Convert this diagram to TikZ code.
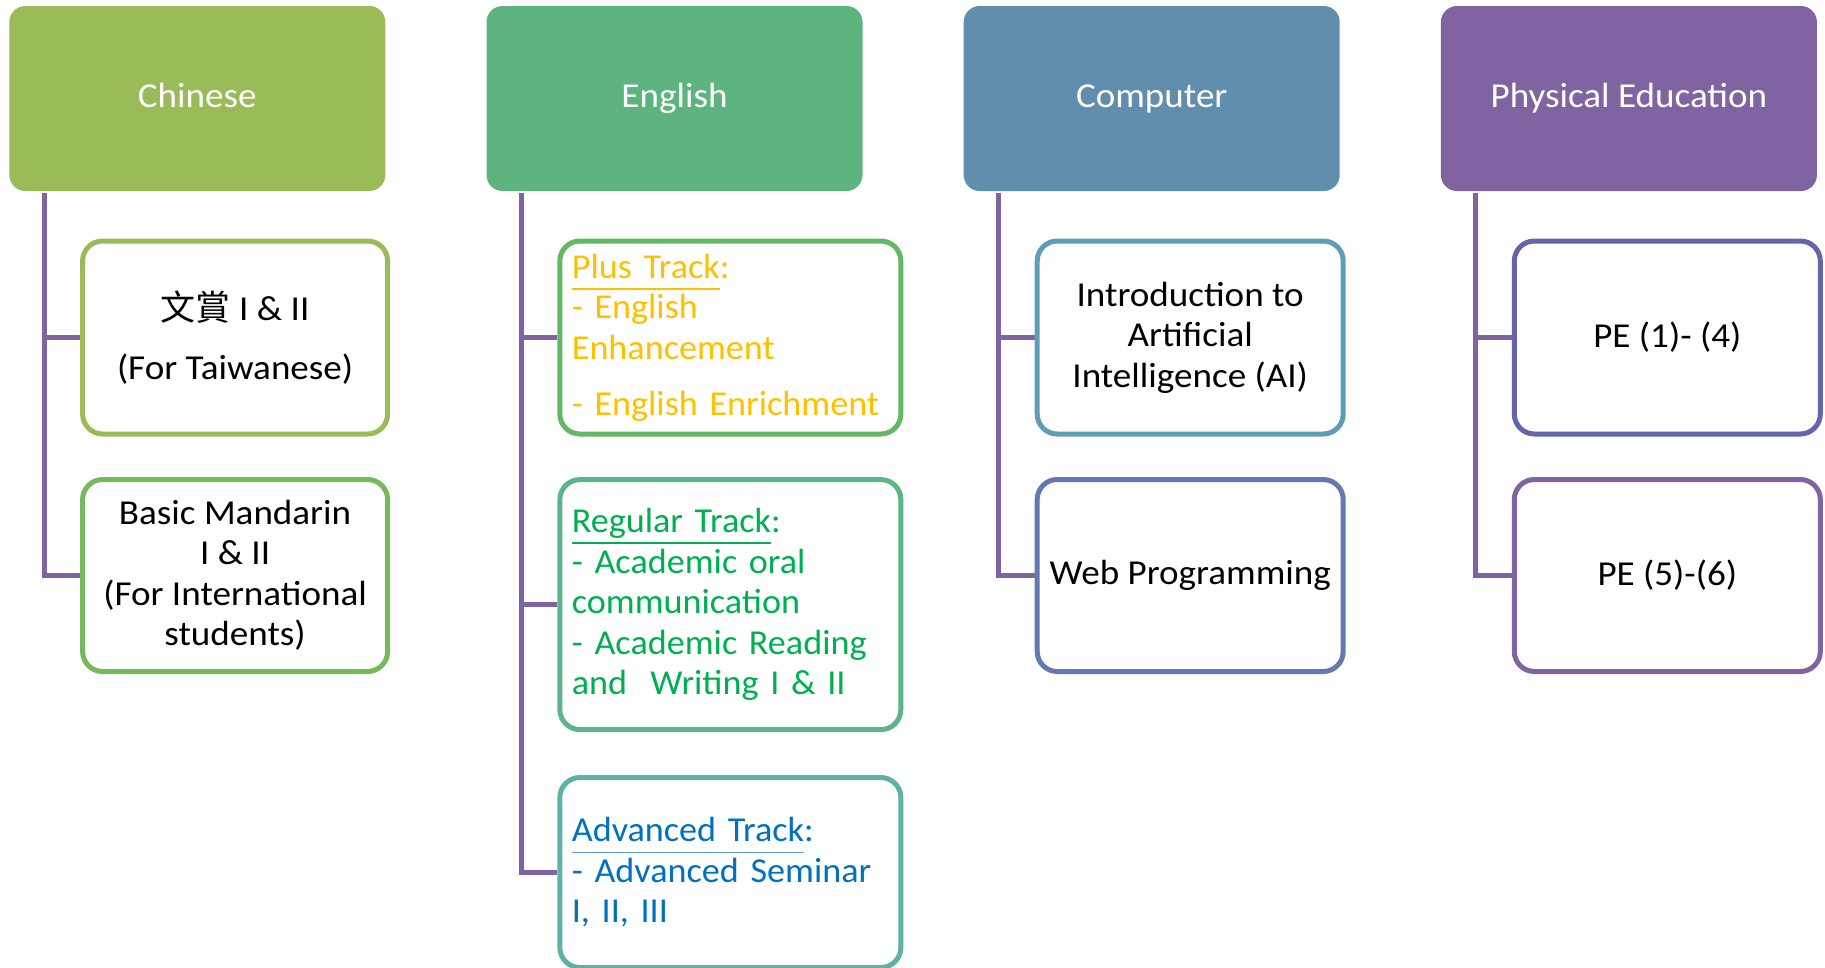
\documentclass[tikz,border=0pt]{standalone}
\usepackage{fontspec}
\setmainfont{Carlito}[FakeStretch=1.06]
\newfontfamily\engfont{Carlito}[FakeStretch=1.033]
\newfontfamily\cjkfont{Noto Sans CJK TC}
\usetikzlibrary{backgrounds}
\definecolor{hChi}{HTML}{9BBB59}
\definecolor{hEng}{HTML}{5DB47E}
\definecolor{hCom}{HTML}{608EAC}
\definecolor{hPE}{HTML}{8064A2}
\definecolor{connC}{HTML}{8064A2}
\definecolor{bC1}{HTML}{9BBB59}
\definecolor{bC2}{HTML}{76B85D}
\definecolor{bE1}{HTML}{64B764}
\definecolor{bE2}{HTML}{5EB38A}
\definecolor{bE3}{HTML}{60B0A6}
\definecolor{bK1}{HTML}{5F9DB4}
\definecolor{bK2}{HTML}{6479B0}
\definecolor{bP1}{HTML}{6665AA}
\definecolor{bP2}{HTML}{8064A2}
\definecolor{tPlus}{HTML}{FFC000}
\definecolor{tReg}{HTML}{00B050}
\definecolor{tAdv}{HTML}{0070C0}
\definecolor{uAdv}{HTML}{5B9BD5}
\newcommand\bodyfont{\fontsize{35}{40.5}\selectfont}
\newcommand\trackul[2]{\setbox0=\hbox{#2}\rlap{\textcolor{#1}{\rule[-11.5pt]{\wd0}{1.8pt}}}\box0}
\begin{document}
\begin{tikzpicture}[x=1pt,y=-1pt,
  hdr/.style={rounded corners=16pt, minimum width=376pt, minimum height=185pt,
    inner sep=0pt, text height=26pt, text depth=8.4pt, text=white, font=\bodyfont},
  kid/.style={draw, line width=5pt, rounded corners=20pt, fill=white,
    inner sep=0pt, font=\bodyfont},
  narrowkid/.style={kid, minimum width=305pt, align=center},
  engkid/.style={kid, minimum width=341pt, text width=317pt, align=left,
    font=\bodyfont\engfont},
  conn/.style={draw=connC, line width=5pt}]
\useasboundingbox (0,0) rectangle (1825,967);
% headers
\node[hdr, fill=hChi] (hC) at (197.3,98.5) {Chinese};
\node[hdr, fill=hEng] (hE) at (674.5,98.5) {English};
\node[hdr, fill=hCom] (hK) at (1151.7,98.5) {Computer};
\node[hdr, fill=hPE] (hP) at (1628.9,98.5) {Physical Education};
% Chinese
\node[narrowkid, draw=bC1, minimum height=193pt] (c1) at (235.1,337.5)
  {{\cjkfont 文賞} I \& II\\[18.5pt](For Taiwanese)};
\node[narrowkid, draw=bC2, minimum height=192pt] (c2) at (235.1,575.5)
  {Basic Mandarin\\I \& II\\(For International\\students)};
% English
\node[engkid, draw=bE1, minimum height=193pt, text=tPlus] (e1) at (730.35,337.5)
  {\trackul{tPlus}{Plus Track}:\\- English\\Enhancement\\[15.5pt]- English Enrichment};
\node[engkid, draw=bE2, minimum height=250pt, text=tReg] (e2) at (730.35,604.6)
  {\trackul{tReg}{Regular Track}:\\- Academic oral\\communication\\- Academic Reading\\and~~Writing I \& II};
\node[engkid, draw=bE3, minimum height=190pt, text=tAdv] (e3) at (730.35,872.5)
  {\trackul{uAdv}{Advanced Track}:\\- Advanced Seminar\\I, II, III};
% Computer
\node[narrowkid, draw=bK1, minimum width=306pt, minimum height=193pt] (k1) at (1190.2,337.5)
  {Introduction to\\Artificial\\Intelligence (AI)};
\node[narrowkid, draw=bK2, minimum width=306pt, minimum height=192pt] (k2) at (1190.2,575.5)
  {Web Programming};
% PE
\node[narrowkid, draw=bP1, minimum width=306pt, minimum height=193pt] (p1) at (1667.3,337.5)
  {PE (1)- (4)};
\node[narrowkid, draw=bP2, minimum width=306pt, minimum height=192pt] (p2) at (1667.3,575.5)
  {PE (5)-(6)};
% connectors
\begin{scope}[on background layer]
\draw[conn] ([xshift=35pt,yshift=-2pt]hC.south west) |- (c1.west);
\draw[conn] ([xshift=35pt,yshift=-2pt]hC.south west) |- (c2.west);
\draw[conn] ([xshift=35pt,yshift=-2pt]hE.south west) |- (e1.west);
\draw[conn] ([xshift=35pt,yshift=-2pt]hE.south west) |- (e2.west);
\draw[conn] ([xshift=35pt,yshift=-2pt]hE.south west) |- (e3.west);
\draw[conn] ([xshift=35pt,yshift=-2pt]hK.south west) |- (k1.west);
\draw[conn] ([xshift=35pt,yshift=-2pt]hK.south west) |- (k2.west);
\draw[conn] ([xshift=35pt,yshift=-2pt]hP.south west) |- (p1.west);
\draw[conn] ([xshift=35pt,yshift=-2pt]hP.south west) |- (p2.west);
\end{scope}
\end{tikzpicture}
\end{document}
